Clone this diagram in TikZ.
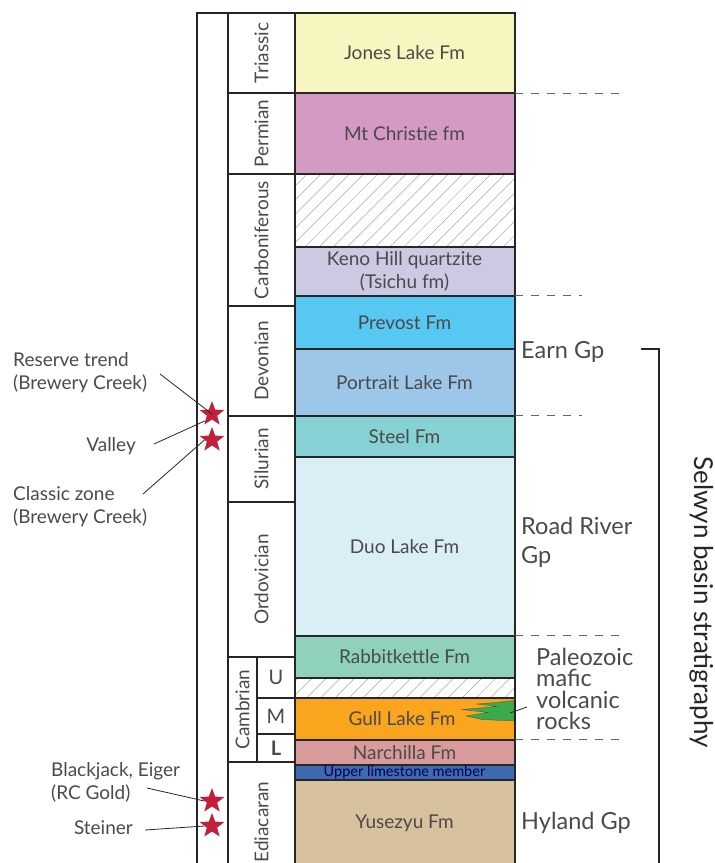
\documentclass[tikz,border=0pt]{standalone}
\usepackage{fontspec}
\setmainfont{Lato}
\usetikzlibrary{shapes.geometric,patterns.meta}
\definecolor{jonesc}{HTML}{F7F5C0}
\definecolor{christiec}{HTML}{D49AC4}
\definecolor{kenoc}{HTML}{CBCAE2}
\definecolor{prevostc}{HTML}{56C8F2}
\definecolor{portraitc}{HTML}{9DC7E8}
\definecolor{steelc}{HTML}{86D1D3}
\definecolor{duoc}{HTML}{DAEEF5}
\definecolor{rabbitc}{HTML}{8FD1BA}
\definecolor{gullc}{HTML}{F9A51E}
\definecolor{narchc}{HTML}{D99A9C}
\definecolor{upperc}{HTML}{3E6AB3}
\definecolor{yusec}{HTML}{D7C29D}
\definecolor{volcc}{HTML}{3AAA4A}
\definecolor{starc}{HTML}{C0203A}
\definecolor{inkc}{HTML}{4A4A4A}
\begin{document}
\begin{tikzpicture}[
    x=1pt,y=-1pt,
    fm/.style={
        draw=black!85,
        line width=1.3pt,
        minimum width=220pt,
        inner sep=0pt,
        font=\fontsize{19}{23}\selectfont,
        text=inkc,
        align=center
    },
    hatch/.style={
        fm,
        pattern={Lines[angle=45,distance=10pt,line width=0.5pt]},
        pattern color=black!35
    },
    period/.style={
        draw=black!85,
        line width=1.3pt,
        rotate=90,
        minimum height=67pt,
        inner sep=0pt,
        font=\fontsize{19}{23}\selectfont,
        text=inkc
    },
    epoch/.style={
        draw=black!85,
        line width=1.3pt,
        minimum width=38pt,
        inner sep=0pt,
        font=\fontsize{20}{23}\selectfont,
        text=inkc
    },
    mine/.style={
        star,
        star points=5,
        star point ratio=2.4,
        fill=starc,
        minimum size=26pt,
        inner sep=0pt
    },
    lbl/.style={font=\fontsize{19}{23}\selectfont, text=inkc, align=left, inner sep=0pt},
    grp/.style={font=\fontsize{23.5}{26}\selectfont, text=inkc, align=left, inner sep=0pt},
    lead/.style={draw=black!85, line width=0.8pt},
    bound/.style={draw=black!60, line width=1.3pt, dash pattern=on 8pt off 8pt}
]
    \useasboundingbox (0,0) rectangle (715,863);
    \clip (0,0) rectangle (715,863);

    % formations
    \node[fm, fill=jonesc, minimum height=80pt] (jones) at (404.5,53) {Jones Lake Fm};
    \node[fm, fill=christiec, minimum height=81pt] (christie) at (404.5,133.5) {Mt Christie fm};
    \node[hatch, minimum height=73pt] (gap1) at (404.5,210.5) {};
    \node[fm, fill=kenoc, minimum height=49pt] (keno) at (404.5,271.5) {Keno Hill quartzite\\(Tsichu fm)};
    \node[fm, fill=prevostc, minimum height=53pt] (prevost) at (404.5,322.5) {Prevost Fm};
    \node[fm, fill=portraitc, minimum height=67pt] (portrait) at (404.5,382.5) {Portrait Lake Fm};
    \node[fm, fill=steelc, minimum height=41pt] (steel) at (404.5,436.5) {Steel Fm};
    \node[fm, fill=duoc, minimum height=179pt] (duo) at (404.5,546.5) {Duo Lake Fm};
    \node[fm, fill=rabbitc, minimum height=42pt] (rabbit) at (404.5,657) {Rabbitkettle Fm};
    \node[hatch, minimum height=20pt] (gap2) at (404.5,688) {};
    \node[fm, fill=gullc, minimum height=42pt] (gull) at (404.5,719) {\hspace*{-5pt}Gull Lake Fm};
    \node[fm, fill=narchc, minimum height=25pt] (narch) at (404.5,752.5) {Narchilla Fm};
    \node[fm, fill=upperc, minimum height=15pt, text=blue!35!black,
          font=\fontsize{14.5}{15}\selectfont] (upper) at (404.5,772.5) {Upper limestone member};
    \node[fm, fill=yusec, minimum height=86pt] (yuse) at (404.5,823) {Yusezyu Fm};

    % volcanic wedge
    \fill[volcc, draw=black!70, line width=0.3pt] (514,700.5) -- (496,702.5) -- (477,704) -- (497,706.5)
        -- (462,709.5) -- (488,712.5) -- (466,716) -- (482,719.5) -- (514,721) -- cycle;

    % periods
    \node[period, minimum width=80pt] (trias) at (261.5,53) {Triassic};
    \node[period, minimum width=81pt] (perm) at (261.5,133.5) {Permian};
    \node[period, minimum width=132pt] (carb) at (261.5,240) {Carboniferous};
    \node[period, minimum width=110pt] (devon) at (261.5,361) {Devonian};
    \node[period, minimum width=86pt] (silur) at (261.5,459) {Silurian};
    \node[period, minimum width=155pt] (ordov) at (261.5,579.5) {Ordovician};
    \node[period, minimum width=105pt, minimum height=29pt] (camb) at (242.5,709.5) {Cambrian};
    \node[period, minimum width=120pt] (ediac) at (261.5,822) {Ediacaran};
    \node[epoch, minimum height=41pt] (upU) at (276,677.5) {U};
    \node[epoch, minimum height=36pt] (midM) at (276,716) {M};
    \node[epoch, minimum height=28pt, font=\fontsize{20}{23}\selectfont\bfseries] (lowL) at (276,748) {L};

    % frame
    \draw[black!85, line width=1.8pt] (197,875) -- (197,13) -- (515,13) -- (515,875);

    % deposits
    \node[mine] (reserve) at (212,414) {};
    \node[mine] (valley) at (212,440) {};
    \node[mine] (blackjack) at (212,801) {};
    \node[mine] (steiner) at (212,826) {};

    \node[lbl, anchor=west] (reserveL) at (13,373) {Reserve trend\\(Brewery Creek)};
    \node[lbl, anchor=east] (valleyL) at (136,446) {Valley};
    \node[lbl, anchor=west] (classicL) at (13,507) {Classic zone\\(Brewery Creek)};
    \node[lbl, anchor=west] (blackjackL) at (51,782) {Blackjack, Eiger\\(RC Gold)};
    \node[lbl, anchor=east] (steinerL) at (133,828) {Steiner};

    \coordinate (reserveE) at (160,374);
    \coordinate (valleyE) at (154,444);
    \coordinate (classicE) at (143,494);
    \coordinate (blackjackE) at (147,788);
    \coordinate (steinerE) at (145,830);
    \draw[lead] (reserveE) -- (reserve.center);
    \draw[lead] (valleyE) -- (reserve.south west);
    \draw[lead] (classicE) -- (valley.west);
    \draw[lead] (blackjackE) -- (blackjack.west);
    \draw[lead] (steinerE) -- (steiner.west);

    % boundaries
    \draw[bound] (jones.south east) -- +(105,0);
    \draw[bound] (prevost.north east) -- +(67,0);
    \draw[bound] (steel.north east) -- +(67,0);
    \draw[bound] (rabbit.north east) -- +(105,0);
    \draw[bound] (narch.north east) -- +(105,0);

    % groups
    \node[grp, anchor=west] (earn) at (521,352) {Earn Gp};
    \node[grp, anchor=west, font=\fontsize{23.5}{29}\selectfont] (road) at (521,542) {Road River\\Gp};
    \node[grp, anchor=west, font=\fontsize{23.5}{21.5}\selectfont] (volc) at (536,689) {Paleozoic\\mafic\\volcanic\\rocks};
    \node[grp, anchor=west] (hyland) at (521,823) {Hyland Gp};
    \coordinate (volcE) at (527,707);
    \draw[lead] (volcE) -- (510,713);

    % basin bracket
    \draw[black!85, line width=1.5pt] (641,349) -- (659,349) -- (659,875);
    \node[font=\fontsize{26}{29}\selectfont, rotate=-90, text=black!85, inner sep=0pt] (selwyn) at (702,602) {Selwyn basin stratigraphy};

\end{tikzpicture}
\end{document}
